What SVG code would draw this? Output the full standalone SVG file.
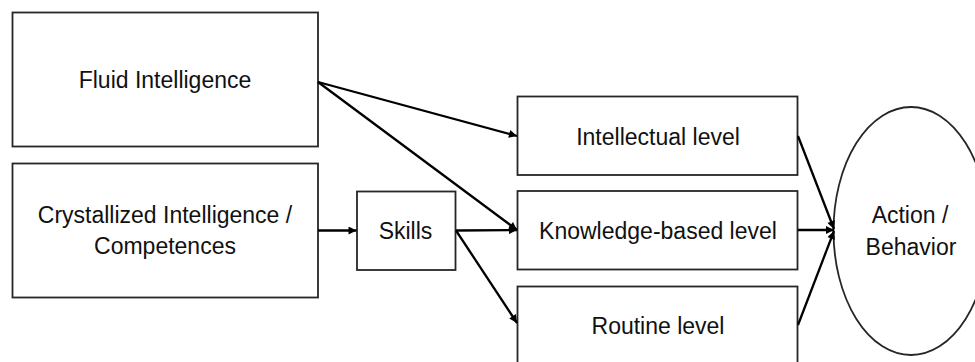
<svg xmlns="http://www.w3.org/2000/svg" width="975" height="362" viewBox="0 0 975 362">
<style>
.box{fill:#fff;stroke:#262626;stroke-width:1.8}
.lbl{font-family:"Liberation Sans",Arial,sans-serif;font-size:23px;fill:#111;text-anchor:middle}
.arr{fill:none;stroke:#000;stroke-width:2.3;marker-end:url(#ah)}
</style>
<defs>
<marker id="ah" viewBox="0 0 10 10" refX="10" refY="5" markerWidth="10" markerHeight="8" markerUnits="userSpaceOnUse" orient="auto">
<path d="M0,0 L10,5 L0,10 z" fill="#000"/>
</marker>
</defs>
<rect width="975" height="362" fill="#fff"/>
<g id="fluid"><rect class="box" x="12.5" y="12.5" width="305.5" height="134"/><text class="lbl" x="165" y="88">Fluid Intelligence</text></g>
<g id="crystallized"><rect class="box" x="12.5" y="163.5" width="305.5" height="134"/><text class="lbl" x="165" y="223">Crystallized Intelligence /</text><text class="lbl" x="165" y="254">Competences</text></g>
<g id="skills"><rect class="box" x="357" y="191.5" width="98.5" height="78.5"/><text class="lbl" x="405.5" y="239">Skills</text></g>
<g id="intellectual"><rect class="box" x="517.5" y="96.5" width="280" height="78.5"/><text class="lbl" x="658" y="145">Intellectual level</text></g>
<g id="knowledge"><rect class="box" x="517.5" y="191" width="280" height="78.5"/><text class="lbl" x="658" y="239">Knowledge-based level</text></g>
<g id="routine"><rect class="box" x="517.5" y="286.5" width="280" height="80"/><text class="lbl" x="658" y="334">Routine level</text></g>
<g id="action"><ellipse class="box" cx="911" cy="231" rx="77.5" ry="124"/><text class="lbl" x="910" y="223">Action /</text><text class="lbl" x="911" y="255">Behavior</text></g>
<g id="connectors">
<line class="arr" x1="318" y1="82" x2="517" y2="136"/>
<line class="arr" x1="318" y1="82" x2="517" y2="230"/>
<line class="arr" x1="318" y1="230.5" x2="356.5" y2="230.5"/>
<line class="arr" x1="456" y1="230.5" x2="517" y2="230"/>
<line class="arr" x1="456" y1="230.5" x2="517" y2="323"/>
<line class="arr" x1="798" y1="136" x2="834" y2="229"/>
<line class="arr" x1="798" y1="230" x2="834" y2="230"/>
<line class="arr" x1="798" y1="325" x2="834" y2="231"/>
</g>
</svg>
